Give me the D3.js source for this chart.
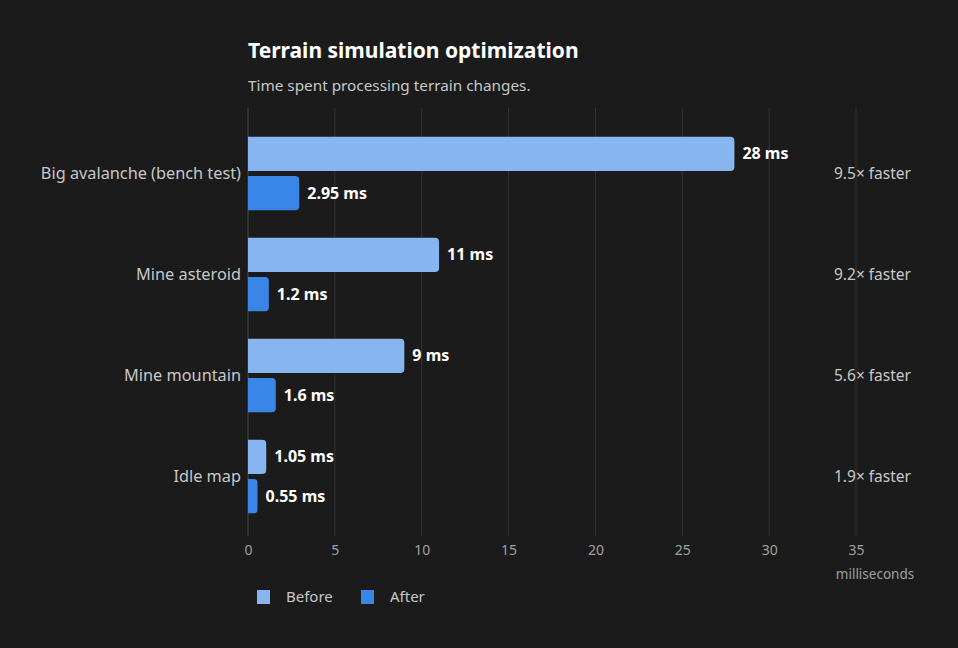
<!DOCTYPE html>
<html>
<head>
<meta charset="utf-8">
<script src="https://cdn.jsdelivr.net/npm/d3@7"></script>
<style>
	body { margin: 0; background: #1b1b1b; }
	svg text { font-family: "Noto Sans", "Open Sans", sans-serif; }
</style>
</head>
<body>
<div id="chart"></div>
<script>
var categories = ["Big avalanche (bench test)", "Mine asteroid", "Mine mountain", "Idle map"];
var series = ["Before", "After"];
var beforeValues = [28, 11, 9, 1.05];
var afterValues = [2.95, 1.2, 1.6, 0.55];
var valueLabels = [["28 ms", "2.95 ms"], ["11 ms", "1.2 ms"], ["9 ms", "1.6 ms"], ["1.05 ms", "0.55 ms"]];
var speedups = ["9.5× faster", "9.2× faster", "5.6× faster", "1.9× faster"];
var xTicks = [0, 5, 10, 15, 20, 25, 30, 35];

var colors = { "Before": "#86b5f0", "After": "#3a86e6" };

var width = 958, height = 648;
var svg = d3.select("#chart").append("svg")
	.attr("width", width)
	.attr("height", height);

svg.append("rect")
	.attr("width", width)
	.attr("height", height)
	.attr("fill", "#1b1b1b");

var x = d3.scaleLinear().domain([0, 35]).range([248, 856]);

var y0 = d3.scaleBand()
	.domain(categories)
	.range([123, 527])
	.paddingInner(0.27)
	.paddingOuter(0.135);

var y1 = d3.scaleBand()
	.domain(series)
	.range([0, y0.bandwidth()])
	.paddingInner(0.13);

// Title
svg.append("text")
	.text("Terrain simulation optimization")
	.attr("x", 248)
	.attr("y", 58)
	.attr("fill", "#ffffff")
	.style("font-size", "21px")
	.style("font-weight", "bold");

svg.append("text")
	.text("Time spent processing terrain changes.")
	.attr("x", 248)
	.attr("y", 91)
	.attr("fill", "#c8c8c8")
	.style("font-size", "15.3px");

// Gridlines
svg.append("g").selectAll("line")
	.data(xTicks)
	.enter().append("line")
	.attr("x1", function(d) { return x(d); })
	.attr("x2", function(d) { return x(d); })
	.attr("y1", 108)
	.attr("y2", 536)
	.attr("stroke", function(d) { return d === 0 ? "#4a4a4a" : "#333333"; })
	.attr("stroke-width", 1);

// x axis tick labels
var xAxis = d3.axisBottom(x).tickValues(xTicks).tickSize(0).tickPadding(0);
var axisG = svg.append("g")
	.attr("transform", "translate(0,545)")
	.call(xAxis);
axisG.select(".domain").remove();
axisG.selectAll("text")
	.attr("fill", "#a0a0a0")
	.attr("dy", "0.71em")
	.style("font-size", "14px")
	.style("font-family", "\"Noto Sans\", sans-serif");

svg.append("text")
	.text("milliseconds")
	.attr("x", 875)
	.attr("y", 579)
	.attr("text-anchor", "middle")
	.attr("fill", "#a0a0a0")
	.style("font-size", "13.5px");

// Bars
function barPath(x0, x1, yTop, h, r) {
	var w = x1 - x0;
	r = Math.min(r, w / 2, h / 2);
	return "M" + x0 + "," + yTop +
		"H" + (x1 - r) +
		"Q" + x1 + "," + yTop + " " + x1 + "," + (yTop + r) +
		"V" + (yTop + h - r) +
		"Q" + x1 + "," + (yTop + h) + " " + (x1 - r) + "," + (yTop + h) +
		"H" + x0 + "Z";
}

var groups = svg.append("g").selectAll("g")
	.data(categories)
	.enter().append("g")
	.attr("transform", function(d) { return "translate(0," + y0(d) + ")"; });

groups.each(function(cat, i) {
	var g = d3.select(this);
	var vals = [beforeValues[i], afterValues[i]];
	series.forEach(function(s, j) {
		g.append("path")
			.attr("d", barPath(x(0), x(vals[j]), y1(s), y1.bandwidth(), 4))
			.attr("fill", colors[s]);
		g.append("text")
			.text(valueLabels[i][j])
			.attr("x", x(vals[j]) + 8)
			.attr("y", y1(s) + y1.bandwidth() / 2)
			.attr("dy", "0.35em")
			.attr("fill", "#ffffff")
			.style("font-size", "16px")
			.style("font-weight", "bold");
	});

	g.append("text")
		.text(cat)
		.attr("x", 241)
		.attr("y", y0.bandwidth() / 2)
		.attr("dy", "0.35em")
		.attr("text-anchor", "end")
		.attr("fill", "#c8c8c8")
		.style("font-size", "16.3px");

	g.append("text")
		.text(speedups[i])
		.attr("x", 834)
		.attr("y", y0.bandwidth() / 2)
		.attr("dy", "0.35em")
		.attr("fill", "#c8c8c8")
		.style("font-size", "15.5px");
});

// Legend
var legend = svg.append("g").selectAll("g")
	.data(series)
	.enter().append("g")
	.attr("transform", function(d, i) { return "translate(" + (257 + i * 104) + ",590)"; });

legend.append("rect")
	.attr("width", 13)
	.attr("height", 14)
	.attr("fill", function(d) { return colors[d]; });

legend.append("text")
	.text(function(d) { return d; })
	.attr("x", 29)
	.attr("y", 7)
	.attr("dy", "0.35em")
	.attr("fill", "#c8c8c8")
	.style("font-size", "15px");
</script>
</body>
</html>
